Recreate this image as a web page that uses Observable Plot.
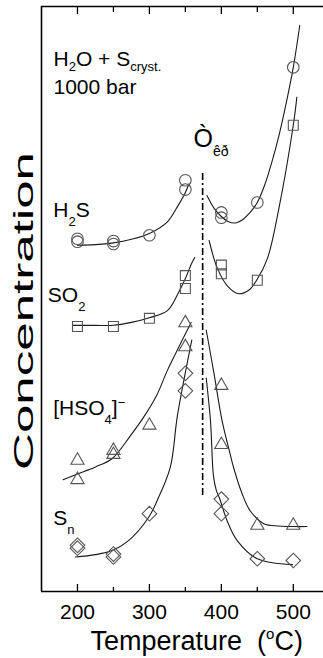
<!DOCTYPE html>
<html><head><meta charset="utf-8">
<script src="https://cdn.jsdelivr.net/npm/d3@7"></script>
<script src="https://cdn.jsdelivr.net/npm/@observablehq/plot@0.6"></script>
<style>body{margin:0;background:#fff} svg{display:block}</style>
</head><body>
<script>
// ---- axis ticks ----
const ticksMajor = [200, 300, 400, 500];
const ticksMinor = [250, 350, 450];
const xDomain = [150, 542];
const yDomain = [0, 100];

// ---- measured points (temperature °C, concentration arb. units) ----
const h2sT = [200, 200, 250, 250, 300, 350, 350, 400, 400, 450, 500];
const h2sC = [60.3, 59.8, 59.9, 59.4, 60.9, 70.3, 68.7, 64.8, 63.9, 66.5, 89.6];
const so2T = [200, 250, 300, 350, 350, 400, 400, 450, 500];
const so2C = [45.3, 45.3, 46.7, 54.0, 51.8, 55.8, 54.3, 53.2, 79.7];
const hso4T = [200, 200, 250, 250, 300, 350, 350, 400, 400, 450, 500];
const hso4C = [22.4, 19.1, 24.1, 23.4, 28.4, 45.9, 41.8, 35.2, 25.1, 11.3, 11.3];
const snT = [200, 200, 250, 250, 300, 350, 350, 400, 400, 450, 500];
const snC = [7.9, 7.4, 6.4, 5.9, 13.3, 37.3, 34.3, 15.8, 13.3, 5.6, 5.3];

// ---- fitted curves ----
const h2sLowT = [200, 225, 250, 275, 300, 325, 340, 350, 355];
const h2sLowC = [59.2, 59.3, 59.6, 60.2, 61.2, 63.2, 66.0, 68.2, 69.7];
const h2sHighT = [380, 390, 400, 410, 420, 430, 440, 450, 460, 470, 480, 490, 500, 509];
const h2sHighC = [67.7, 65.5, 64.1, 63.2, 63.0, 63.6, 64.8, 66.5, 69.4, 73.3, 77.9, 83.4, 89.6, 96.8];
const so2LowT = [193, 225, 250, 275, 300, 325, 340, 350, 358, 363];
const so2LowC = [45.5, 45.5, 45.5, 46.0, 46.8, 48.0, 51.0, 53.5, 55.9, 57.1];
const so2HighT = [383, 394, 408, 424, 438, 449, 464, 480, 500, 505];
const so2HighC = [60.0, 55.4, 52.3, 50.9, 51.5, 53.2, 56.9, 65.5, 79.7, 84.5];
const hso4LowT = [180, 200, 225, 248, 274, 292, 310, 325, 343, 358];
const hso4LowC = [19.1, 20.1, 21.3, 22.7, 26.7, 29.8, 33.5, 37.8, 42.3, 46.0];
const hso4HighT = [379, 390, 401, 412, 417, 428, 440, 459, 480, 500, 519];
const hso4HighC = [44.7, 37.1, 29.2, 23.6, 21.2, 17.0, 13.8, 11.6, 11.2, 11.1, 11.1];
const snLowT = [197, 225, 248, 271, 299, 311, 329, 339, 359];
const snLowC = [5.9, 6.3, 7.0, 8.7, 12.7, 15.6, 21.2, 30.1, 43.0];
const snHighT = [379, 385, 389, 393, 397, 408, 422, 450, 499];
const snHighC = [36.5, 29.0, 19.8, 17.3, 16.1, 12.1, 8.7, 5.6, 4.6];

// ---- critical temperature line ----
const tcT = [374];
const tcFrom = 16.4, tcTo = 71.6;

// ---- annotations ----
const headText = ["H_{2}O + S_{cryst.}", "1000 bar"];
const headT = [166.7, 166.7];
const headC = [89.8, 85.1];
const speciesText = ["H_{2}S", "SO_{2}", "[HSO_{4}]^{−}", "S_{n}"];
const speciesT = [166.3, 158.8, 166.3, 166.3];
const speciesC = [64.0, 49.5, 30.1, 11.3];
const tcText = ["Ò_{êð}"];
const tcLabelT = [361.3];
const tcLabelC = [75.9];
const xTitle = "Temperature\u00a0\u00a0(^{o}C)";
const yTitle = "Concentration";

const zip = (T, C) => T.map((t, i) => ({T: t, c: C[i]}));
const zipText = (S, T, C) => S.map((s, i) => ({s, T: T[i], c: C[i]}));

const FH = 658 - 6 - 67;
const lineStyle = {x: "T", y: "c", curve: "catmull-rom", stroke: "#1a1a1a", strokeWidth: 1.1};
const dotStyle = {x: "T", y: "c", fill: "none", stroke: "#555", strokeWidth: 1.1};
const textStyle = {x: "T", y: "c", text: "s", textAnchor: "start", lineAnchor: "bottom", fill: "black"};

const plot = Plot.plot({
  width: 323, height: 658,
  marginLeft: 41, marginRight: 0, marginTop: 6, marginBottom: 67,
  style: {fontFamily: "Liberation Sans, Arial, sans-serif", fontSize: "21px", background: "white", color: "black"},
  x: {domain: xDomain, axis: null},
  y: {domain: yDomain, axis: null},
  marks: [
    // frame (top, bottom, left)
    Plot.ruleY([yDomain[0], yDomain[1]], {strokeWidth: 1.6}),
    Plot.ruleX([xDomain[0]], {strokeWidth: 1.6}),
    // inward ticks
    Plot.tickX(ticksMajor, {x: d => d, insetTop: FH - 7, strokeWidth: 1.3}),
    Plot.tickX(ticksMinor, {x: d => d, insetTop: FH - 4, strokeWidth: 1.3}),
    Plot.tickX(ticksMajor, {x: d => d, insetBottom: FH - 8, strokeWidth: 1.3}),
    Plot.tickX(ticksMinor, {x: d => d, insetBottom: FH - 6, strokeWidth: 1.3}),
    Plot.axisX({ticks: ticksMajor, tickSize: 0, tickPadding: 13, fontSize: 21, tickFormat: d => d, label: null}),
    // critical temperature
    Plot.ruleX(tcT, {x: d => d, y1: tcFrom, y2: tcTo, strokeDasharray: "7,3,2,3", strokeWidth: 1.6}),
    // fitted curves
    Plot.line(zip(h2sLowT, h2sLowC), lineStyle),
    Plot.line(zip(h2sHighT, h2sHighC), lineStyle),
    Plot.line(zip(so2LowT, so2LowC), lineStyle),
    Plot.line(zip(so2HighT, so2HighC), lineStyle),
    Plot.line(zip(hso4LowT, hso4LowC), lineStyle),
    Plot.line(zip(hso4HighT, hso4HighC), lineStyle),
    Plot.line(zip(snLowT, snLowC), lineStyle),
    Plot.line(zip(snHighT, snHighC), lineStyle),
    // points
    Plot.dot(zip(h2sT, h2sC), {...dotStyle, symbol: "circle", r: 5.8}),
    Plot.dot(zip(so2T, so2C), {...dotStyle, symbol: "square", r: 5.6}),
    Plot.dot(zip(hso4T, hso4C), {...dotStyle, symbol: "triangle", r: 4.9}),
    Plot.dot(zip(snT, snC), {...dotStyle, symbol: "diamond2", r: 6.6}),
    // annotations
    Plot.text(zipText(headText, headT, headC), {...textStyle, fontSize: 21}),
    Plot.text(zipText(speciesText, speciesT, speciesC), {...textStyle, fontSize: 21}),
    Plot.text(zipText(tcText, tcLabelT, tcLabelC), {...textStyle, fontSize: 25}),
    Plot.text([xTitle], {text: d => d, frameAnchor: "bottom-left", dx: 49, dy: 58, textAnchor: "start", lineAnchor: "bottom", fontSize: 27, fill: "black"}),
    Plot.text([yTitle], {text: d => d, frameAnchor: "left", rotate: -90, dx: -9, dy: 12, textAnchor: "middle", lineAnchor: "bottom", fontSize: 28, fill: "black"})
  ]
});

// sub/superscript rendering of the annotation strings
const richStyle = new Map();
headText.forEach(s => richStyle.set(s, [13, 5, -8]));
speciesText.forEach(s => richStyle.set(s, [13, 9, -8]));
tcText.forEach(s => richStyle.set(s, [14, 9, -8]));
richStyle.set(xTitle, [15, 8, -11]);

function richify(node, subSize, subShift, supShift) {
  const raw = node.textContent;
  const re = /([_^])\{([^}]*)\}|([^_^]+)/g;
  let m, cur = 0;
  node.textContent = "";
  while ((m = re.exec(raw))) {
    const t = d3.select(node).append("tspan");
    let target = 0;
    if (m[1]) {
      t.text(m[2]).attr("font-size", subSize);
      target = m[1] === "_" ? subShift : supShift;
    } else t.text(m[3]);
    if (target !== cur) t.attr("dy", target - cur);
    cur = target;
  }
}
d3.select(plot).selectAll("text").each(function () {
  const txt = this.textContent;
  if (richStyle.has(txt)) richify(this, ...richStyle.get(txt));
  if (txt === yTitle) {
    this.setAttribute("textLength", 318);
    this.setAttribute("lengthAdjust", "spacingAndGlyphs");
  }
});

document.body.appendChild(plot);
</script>
</body></html>
